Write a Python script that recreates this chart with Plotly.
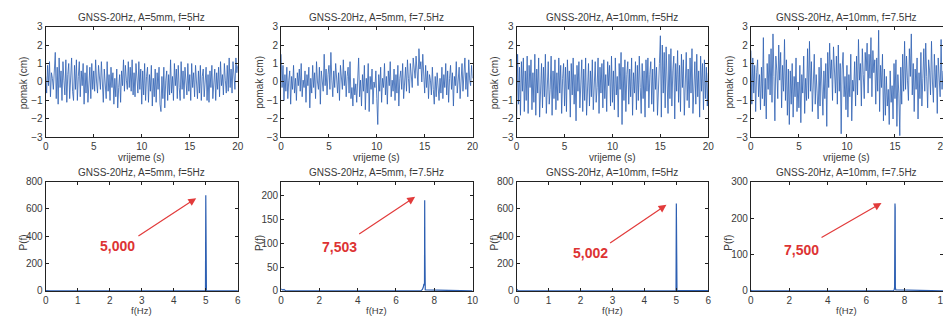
import plotly.graph_objects as go
from plotly.subplots import make_subplots

# ---------------- data ----------------
titles = ["GNSS-20Hz, A=5mm, f=5Hz", "GNSS-20Hz, A=5mm, f=7.5Hz",
          "GNSS-20Hz, A=10mm, f=5Hz", "GNSS-20Hz, A=10mm, f=7.5Hz"]
peak_labels = ["5,000", "7,503", "5,002", "7,500"]

t_step = 0.1
disp_1 = [0.3,-0.6,0.9,-0.2,1.1,-0.8,0.5,0.2,-0.4,1.2,
          1.6,-0.9,0.8,-1.2,1.3,-0.3,0.6,-1.0,1.1,0.1,
          -0.7,1.2,-1.1,0.4,1.0,-0.9,0.2,1.3,-0.5,-1.0,
          0.9,-0.4,1.2,-1.0,0.3,1.1,-0.8,0.6,-0.2,1.0,
          -1.2,0.5,-0.6,0.9,-1.1,0.2,0.8,-0.9,1.0,-0.4,
          0.6,-0.5,1.2,0.0,-0.6,0.9,0.3,-0.4,1.1,-0.2,
          -1.1,0.7,0.1,-0.9,1.1,-0.5,0.4,-1.0,0.8,-0.3,
          0.5,-1.2,0.2,-0.8,0.7,-1.4,-0.3,0.4,-1.1,0.6,
          -0.2,1.2,-0.5,0.9,0.1,-0.4,1.1,-0.3,0.8,-0.5,
          1.2,-0.7,0.5,-0.8,1.0,0.0,-0.6,1.1,-0.4,0.7,
          -1.2,0.6,-0.7,1.0,-1.0,0.3,0.8,-1.1,0.4,-0.5,
          0.9,-1.3,0.2,-0.8,0.7,-1.1,0.5,-0.4,0.8,-1.2,
          -1.6,0.3,-0.9,0.8,-1.4,0.1,0.6,-1.0,0.4,-0.7,
          1.2,-0.6,0.3,-1.0,1.0,-0.2,0.7,-0.9,0.9,-0.3,
          -1.0,1.1,-0.4,0.6,-0.9,0.8,0.0,-0.7,1.0,-0.5,
          0.4,-1.0,1.0,-0.3,0.5,-0.8,0.9,-0.2,-0.9,0.6,
          -0.6,0.9,-1.0,0.3,0.7,-0.8,0.2,0.8,-1.0,0.4,
          -1.1,0.6,-0.3,0.9,-0.9,0.2,0.7,-1.0,0.5,-0.4,
          0.8,-0.8,1.1,-0.2,0.4,-0.7,1.0,0.1,-0.6,0.9,
          -0.5,1.3,-0.3,0.7,-0.6,1.1,0.2,-0.4,1.3,0.5,0.9]
disp_2 = [1.5,-0.3,0.9,-1.0,0.4,-0.5,0.8,-0.9,0.1,0.6,
          -1.2,0.3,-0.4,0.9,-0.6,0.2,-1.0,0.5,-0.2,0.7,
          -0.5,1.0,-0.8,0.1,-0.3,0.6,-1.1,0.4,-0.2,0.8,
          -1.4,0.2,-0.6,0.9,-0.3,0.5,-0.9,1.1,0.0,-0.4,
          0.8,-1.2,0.6,0.1,-0.5,1.5,-0.2,0.7,-0.7,0.4,
          0.9,-0.4,1.6,0.1,-0.8,0.6,-0.3,1.0,0.2,-0.6,
          0.5,-1.0,0.9,0.0,-0.4,1.2,-0.2,0.6,-0.8,0.3,
          0.8,-0.6,1.1,-0.9,-0.3,-1.3,0.2,-0.7,-0.1,-1.1,
          0.3,1.3,-0.8,0.1,-1.3,0.4,-0.5,0.9,-1.5,0.2,
          -0.6,1.0,-1.6,0.3,-0.4,0.7,-1.2,0.0,-0.3,0.6,
          -0.9,-2.3,0.4,-0.5,0.8,-1.1,0.2,-0.3,1.0,-0.7,
          0.3,-1.2,0.6,-0.2,1.1,-0.8,0.1,-0.5,0.7,-1.0,
          0.4,-0.6,0.9,-1.3,0.2,0.6,-0.4,1.0,-0.9,0.3,
          0.8,-0.5,1.2,0.2,-0.6,1.0,0.4,-0.3,1.3,0.5,
          0.2,1.4,0.6,-0.2,1.8,0.7,1.1,0.0,1.5,0.4,
          -0.6,0.9,-0.3,0.6,-0.9,0.4,0.1,-0.7,0.8,-0.4,
          -1.2,0.3,-0.8,0.5,-0.5,-1.0,0.2,-0.6,0.8,-0.9,
          0.4,-0.3,1.0,-0.7,0.6,-1.1,0.2,0.9,-0.4,0.5,
          -1.3,0.3,-0.2,1.1,-0.6,0.4,0.8,-0.9,0.2,1.0,
          -0.5,0.7,1.3,-0.4,0.5,-0.8,1.2,0.1,-0.2,0.9,0.2]
disp_3 = [-2.0,1.5,-1.2,0.8,-1.8,1.1,-0.5,1.3,-1.6,0.6,
          -1.0,1.4,-1.7,0.9,-0.3,1.2,-1.5,0.5,-1.1,1.5,
          -1.8,0.7,-0.6,1.3,-1.9,0.4,1.0,-1.4,0.8,-0.8,
          1.5,-1.7,0.3,1.1,-1.2,-0.4,1.4,-1.8,0.6,-0.9,
          1.2,-1.5,0.5,-1.0,1.3,-0.6,0.9,-1.7,0.2,1.0,
          -1.3,0.8,-1.6,1.2,-0.4,0.6,-1.9,1.0,-0.7,1.3,
          -1.2,0.4,-2.1,0.9,-0.5,1.1,-1.4,0.3,1.2,-1.6,
          0.7,-1.0,1.3,-1.8,0.2,1.0,-1.3,0.6,-0.8,1.2,
          -1.5,0.5,1.1,-1.1,-0.3,1.3,-1.7,0.8,-0.6,1.0,
          -1.4,1.2,-0.9,0.4,-1.6,1.1,-0.2,0.9,-1.3,1.4,
          -1.1,0.6,-1.5,1.3,-0.7,0.3,-1.9,1.0,-0.4,1.6,
          -2.3,0.8,-1.0,1.2,-1.6,0.4,1.1,-1.2,0.7,-0.8,
          1.3,-1.8,0.5,-0.6,1.1,-1.5,0.9,-1.0,1.4,-0.3,
          -1.7,1.0,-0.9,0.6,-1.9,1.2,-0.5,1.3,-1.4,0.4,
          1.1,-1.2,0.7,-1.6,1.3,-0.4,0.8,-1.8,0.3,1.0,
          2.5,-1.9,2.0,-0.6,1.6,-1.4,1.9,0.2,-1.7,1.5,
          -0.9,1.8,-1.3,0.6,1.4,-2.0,1.0,-0.5,1.7,-1.1,
          0.9,-1.6,1.5,-0.3,1.2,-1.8,0.5,1.6,-1.0,0.7,
          -1.4,1.3,-0.6,1.8,-1.7,0.4,1.1,-1.2,1.5,-0.8,
          0.6,-1.9,1.4,-0.5,1.0,-1.5,1.2,-0.9,0.8,-1.3,0.5]
disp_4 = [1.7,-1.2,1.3,-0.6,0.9,-1.6,0.5,1.2,-0.8,0.4,
          -1.5,0.8,-0.9,2.4,-1.3,0.2,-2.0,1.0,-0.4,1.5,
          -0.7,1.8,-1.1,2.6,0.3,-2.1,1.4,0.6,-0.9,2.0,
          0.1,1.6,-1.4,0.9,-0.5,2.3,-1.0,1.2,-1.8,0.7,
          -2.3,0.6,-1.2,1.0,-1.9,0.3,-0.8,1.3,-1.6,0.0,
          -1.4,0.9,-2.2,0.4,-0.6,1.4,-1.7,0.2,-1.0,1.8,
          -0.9,2.2,-0.5,1.1,-1.6,0.7,1.5,-1.2,0.4,-0.6,
          -2.0,0.8,-1.3,1.3,-0.2,-1.8,0.6,-0.9,1.0,-2.4,
          1.6,-0.3,2.1,0.2,1.2,-1.0,1.9,0.5,-0.6,1.4,
          -1.2,2.0,-0.5,1.0,-2.8,0.7,1.6,-0.8,0.3,-1.5,
          0.9,-1.9,0.4,-0.8,1.5,-2.1,0.1,-0.5,1.1,-1.3,
          1.4,-0.7,2.3,0.1,1.0,-1.3,1.8,0.4,-0.9,1.6,
          0.6,2.1,-0.6,1.5,0.2,2.4,-0.8,1.7,0.5,1.2,
          -1.2,1.3,-0.5,2.8,-1.6,0.9,-0.3,1.5,-2.1,0.7,
          -1.8,0.3,-1.3,-0.4,-2.3,0.6,-1.1,-0.2,-2.0,1.0,
          -0.9,1.2,-2.4,0.4,-0.6,-2.9,0.8,-1.2,1.5,-0.5,
          2.2,-0.4,1.4,0.1,-1.0,1.8,0.3,2.6,-0.7,1.0,
          -1.6,0.7,-0.4,1.3,-2.0,0.5,-0.9,1.6,-1.3,0.2,
          1.8,-0.5,2.1,0.3,-1.4,1.2,0.6,-0.7,2.2,0.0,
          -1.1,1.5,-0.3,0.9,-1.7,1.3,0.1,-0.8,2.3,-0.4,0.6]

freq_1 = [0, 0.05, 0.1, 0.15, 4.98, 4.99, 5.0, 5.01, 5.02, 10]
pow_1 = [3, 1.5, 0.5, 0, 0, 2, 700, 180, 1, 0]
freq_2 = [0, 0.05, 0.1, 0.15, 0.2, 0.25, 7.3, 7.38, 7.43, 7.46, 7.49, 7.5, 7.51, 7.53, 10]
pow_2 = [4, 3, 2, 3, 1, 0, 0, 3, 8, 15, 12, 190, 90, 2, 0]
freq_3 = [0, 0.05, 0.1, 4.98, 4.99, 5.0, 5.01, 5.02, 10]
pow_3 = [12, 2, 0, 0, 3, 640, 120, 2, 0]
freq_4 = [0, 0.05, 7.4, 7.46, 7.48, 7.49, 7.5, 7.51, 7.52, 7.54, 10]
pow_4 = [2, 0, 0, 3, 10, 225, 240, 228, 10, 3, 0]

# arrow annotations: text position, arrow tail, arrow head (data units)
label_pos = [(2.23, 325), (3.05, 93), (2.3, 277), (2.66, 113)]
arrow_tail = [(2.85, 395), (4.0, 117), (2.88, 344), (3.6, 144)]
arrow_head = [(4.7, 678), (7.0, 197), (4.69, 630), (6.8, 241)]

f_xmax = [6, 10, 6, 10]
f_xdtick = [1, 2, 1, 2]
p_ymax = [800, 229, 800, 300]
p_ydtick = [200, 50, 200, 100]

# ---------------- figure ----------------
disps = [disp_1, disp_2, disp_3, disp_4]
freqs = [freq_1, freq_2, freq_3, freq_4]
pows = [pow_1, pow_2, pow_3, pow_4]

OFF = 8  # page body margin
W, H = 951 - OFF, 322 - OFF
col_px = [(43, 237), (280.7, 474), (518.5, 712), (755, 949)]
top_px = (22, 137)
bot_px = (182.7, 296)


def px(v):
    return v - OFF


LINE = "#2d5fb2"
FONT = "Liberation Sans, Arial, sans-serif"
TXT = "#3a3a3a"

fig = make_subplots(rows=2, cols=4)

for i in range(4):
    t = [round(k * t_step, 2) for k in range(len(disps[i]))]
    fig.add_trace(go.Scatter(x=t, y=disps[i], mode="lines",
                             line=dict(color=LINE, width=0.8), showlegend=False),
                  row=1, col=i + 1)
    fig.add_trace(go.Scatter(x=freqs[i], y=pows[i], mode="lines",
                             line=dict(color=LINE, width=1.2), showlegend=False),
                  row=2, col=i + 1)

axis_common = dict(showline=True, linecolor="#222", linewidth=1, mirror="allticks",
                   ticks="inside", ticklen=3, tickcolor="#222", showgrid=False,
                   zeroline=False, tickfont=dict(family=FONT, size=10, color=TXT))


def text_ann(text, xp, yp, angle=0, size=10):
    fig.add_annotation(text=text, x=px(xp) / W, y=1 - px(yp) / H,
                       xref="paper", yref="paper", xanchor="center", yanchor="middle",
                       textangle=angle, showarrow=False,
                       font=dict(family=FONT, size=size, color=TXT))


for i in range(4):
    x0, x1 = px(col_px[i][0]), px(col_px[i][1])
    xd = [x0 / W, x1 / W]
    ytop = [1 - px(top_px[1]) / H, 1 - px(top_px[0]) / H]
    ybot = [1 - px(bot_px[1]) / H, 1 - px(bot_px[0]) / H]
    # top row
    fig.update_xaxes(domain=xd, range=[0, 20], tickvals=[0, 5, 10, 15, 20],
                     row=1, col=i + 1, **axis_common)
    fig.update_yaxes(domain=ytop, range=[-3, 3], tickvals=[-3, -2, -1, 0, 1, 2, 3],
                     row=1, col=i + 1, **axis_common)
    # bottom row
    fig.update_xaxes(domain=xd, range=[0, f_xmax[i]], dtick=f_xdtick[i], tick0=0,
                     row=2, col=i + 1, **axis_common)
    fig.update_yaxes(domain=ybot, range=[0, p_ymax[i]], dtick=p_ydtick[i], tick0=0,
                     row=2, col=i + 1, **axis_common)

    xc = (col_px[i][0] + col_px[i][1]) / 2
    text_ann(titles[i], xc, 13)
    text_ann(titles[i], xc, 173)
    text_ann("vrijeme (s)", xc, 158)
    text_ann("f(Hz)", xc, 316.5, size=9.5)
    text_ann("pomak (cm)", col_px[i][0] - 22, 80, -90)
    text_ann("P(f)", col_px[i][0] - 22, 246, -90)

    xr = "x%d" % (i + 5)
    yr = "y%d" % (i + 5)
    fig.add_annotation(x=arrow_head[i][0], y=arrow_head[i][1],
                       ax=arrow_tail[i][0], ay=arrow_tail[i][1],
                       xref=xr, yref=yr, axref=xr, ayref=yr, text="",
                       showarrow=True, arrowhead=2, arrowsize=1.3, arrowwidth=1.2,
                       arrowcolor="#e23b3b")
    fig.add_annotation(x=label_pos[i][0], y=label_pos[i][1], xref=xr, yref=yr,
                       xanchor="center", yanchor="middle",
                       text="<b>%s</b>" % peak_labels[i], showarrow=False,
                       font=dict(family=FONT, size=14, color="#dd3333"))

fig.update_layout(width=W, height=H, margin=dict(l=0, r=0, t=0, b=0),
                  paper_bgcolor="white", plot_bgcolor="white", showlegend=False)

fig.write_html("out.html")
